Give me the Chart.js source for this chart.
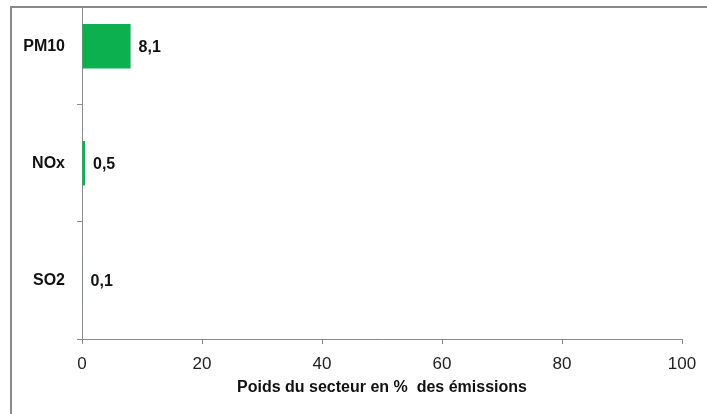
<!DOCTYPE html>
<html>
<head>
<meta charset="utf-8">
<script src="https://cdn.jsdelivr.net/npm/chart.js@4.4.1/dist/chart.umd.min.js"></script>
<style>
  html, body { margin: 0; padding: 0; background: #fff; }
  body { width: 707px; height: 414px; position: relative; overflow: hidden; }
  /* grey frame: only top and left edges are visible */
  .frame {
    position: absolute; left: 10px; top: 6px;
    width: 697px; height: 408px;
    border-top: 2px solid #8a8a8a; border-left: 2px solid #8a8a8a;
    overflow: hidden;
  }
  .frame .wrap { position: absolute; left: -12px; top: -42px; width: 707px; height: 456px; }
</style>
</head>
<body>
<div class="frame"><div class="wrap"><canvas id="secteurChart" width="707" height="456"></canvas></div></div>
<script>
/* Poids du secteur - part des émissions par polluant */
const polluants = ['PM10', 'NOx', 'SO2'];
const poids = [8.1, 0.5, 0.1];
const ticksX = [0, 20, 40, 60, 80, 100];
const titreX = 'Poids du secteur en %  des émissions';

const fmt = v => v.toFixed(1).replace('.', ',');

// value labels at the end of each bar
const valueLabels = {
    id: 'valueLabels',
    afterDatasetsDraw(chart) {
        const ctx = chart.ctx;
        const meta = chart.getDatasetMeta(0);
        ctx.save();
        ctx.font = 'bold 16px "Liberation Sans", Arial, sans-serif';
        ctx.fillStyle = '#111';
        ctx.textAlign = 'left';
        ctx.textBaseline = 'middle';
        meta.data.forEach((bar, i) => {
            ctx.fillText(fmt(poids[i]), bar.x + 8, bar.y + 1);
        });
        ctx.restore();
    }
};

new Chart(document.getElementById('secteurChart'), {
    type: 'bar',
    data: {
        labels: polluants,
        datasets: [{
            data: poids,
            backgroundColor: '#0db04f',
            borderWidth: 0,
            categoryPercentage: 1,
            barPercentage: 0.38
        }]
    },
    options: {
        indexAxis: 'y',
        responsive: false,
        animation: false,
        layout: { padding: { left: 0, top: 6, right: 25, bottom: 0 } },
        plugins: {
            legend: { display: false },
            tooltip: { enabled: false }
        },
        scales: {
            x: {
                min: 0,
                max: 100,
                afterBuildTicks: s => { s.ticks = ticksX.map(v => ({ value: v })); },
                afterFit: s => { s.height = 83; },
                grid: { drawOnChartArea: false, tickLength: 5, color: '#8a8a8a' },
                border: { color: '#8a8a8a' },
                ticks: {
                    color: '#222',
                    padding: 10,
                    maxRotation: 0,
                    font: { family: '"Liberation Sans", Arial, sans-serif', size: 17 }
                },
                title: {
                    display: true,
                    text: titreX,
                    color: '#111',
                    font: { family: '"Liberation Sans", Arial, sans-serif', size: 16, weight: 'bold' },
                    padding: { top: 0, bottom: 25 }
                }
            },
            y: {
                afterFit: s => { s.width = 82; },
                grid: { offset: true, drawOnChartArea: false, tickLength: 5, color: '#8a8a8a' },
                border: { color: '#8a8a8a' },
                ticks: {
                    color: '#111',
                    padding: 12,
                    font: { family: '"Liberation Sans", Arial, sans-serif', size: 16, weight: 'bold' }
                }
            }
        }
    },
    plugins: [valueLabels]
});
</script>
</body>
</html>
